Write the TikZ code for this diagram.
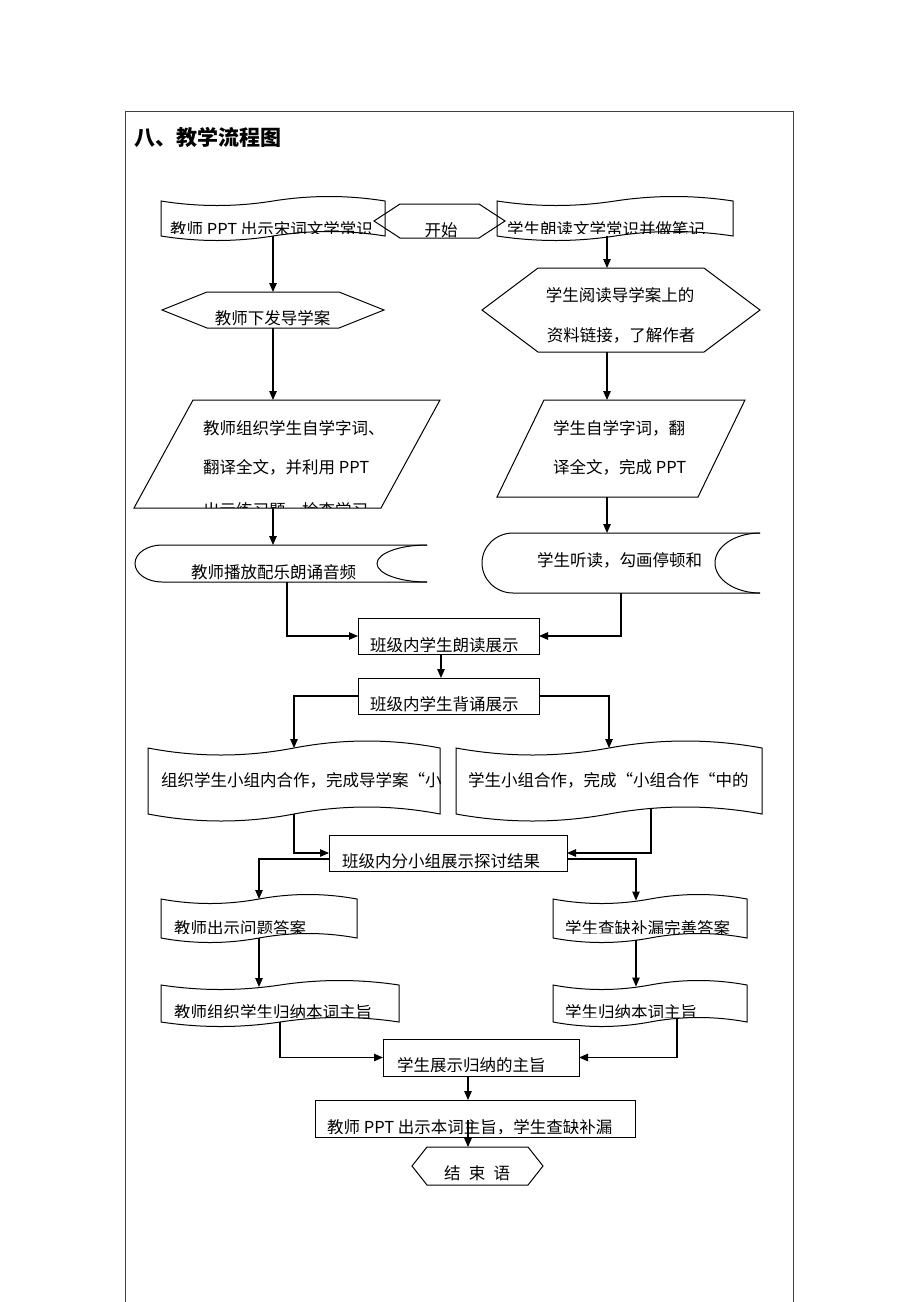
\documentclass[tikz,border=0pt]{standalone}
\usepackage{fontspec}
\setmainfont{Noto Sans CJK SC}
\usetikzlibrary{arrows.meta,calc}
\tikzset{
  ln/.style={line width=1pt, line join=miter},
  arr/.style={line width=1.1pt, -{Triangle[length=9pt,width=7.5pt]}},
  shp/.style={draw=none, inner sep=0pt, outer sep=0pt},
  boxn/.style={draw, line width=0.9pt, inner sep=0pt, outer sep=0pt},
  txt/.style={inner sep=0pt, font=\fontsize{16.5}{18}\selectfont},
  frame/.style={line width=1pt, draw=black!75}
}
\newcommand\tapeoutline[2]{%
  \draw[ln] let \p1=(#1.north west), \p2=(#1.south east), \n1={\x2-\x1}, \n2={4*#2/3} in
   (\x1,\y1) .. controls ({\x1+\n1/6},{\y1-\n2}) and ({\x1+\n1/3},{\y1-\n2}) .. ({\x1+\n1/2},\y1)
   .. controls ({\x1+2*\n1/3},{\y1+\n2}) and ({\x1+5*\n1/6},{\y1+\n2}) .. (\x2,\y1)
   -- (\x2,\y2)
   .. controls ({\x1+5*\n1/6},{\y2+\n2}) and ({\x1+2*\n1/3},{\y2+\n2}) .. ({\x1+\n1/2},\y2)
   .. controls ({\x1+\n1/3},{\y2-\n2}) and ({\x1+\n1/6},{\y2-\n2}) .. (\x1,\y2) -- cycle;}
\newcommand\hexoutline[2]{%
  \draw[ln] (#1.west) -- ([xshift=#2]#1.north west) -- ([xshift=-#2]#1.north east) -- (#1.east)
   -- ([xshift=-#2]#1.south east) -- ([xshift=#2]#1.south west) -- cycle;}
\newcommand\paraoutline[2]{%
  \draw[ln] (#1.south west) -- ([xshift=-#2]#1.south east) -- (#1.north east) -- ([xshift=#2]#1.north west) -- cycle;}
\newcommand\storedoutline[3]{%
  \draw[ln] let \p1=(#1.north west), \p2=(#1.south east), \n1={(\y1-\y2)/2} in
   (\x2,\y1) -- ({\x1+#2},\y1) arc[start angle=90,end angle=270,x radius=#2,y radius=\n1] -- (\x2,\y2);
  \draw[ln] let \p1=(#1.north west), \p2=(#1.south east), \n1={(\y1-\y2)/2} in
   (\x2,\y1) arc[start angle=90,end angle=270,x radius=#3,y radius=\n1];}
\newcommand\cliptxt[7]{%
  \begin{scope}\clip (#4,0) rectangle (#5,#6);
  \node[txt,anchor=west] (#1) at (#2,#3) {#7};\end{scope}}
\begin{document}
\begin{tikzpicture}[x=1pt,y=-1pt]
\useasboundingbox (0,0) rectangle (920,1302);
% page frame
\draw[frame] (125,1302) -- (125,111) -- (793,111) -- (793,1302);
\node[inner sep=0pt,anchor=west,font=\fontsize{21}{24}\selectfont\bfseries] (title) at (134,137.5) {八、教学流程图};

% ---- shapes ----
\node[shp,minimum width=224pt,minimum height=35pt] (T1) at (273,218.5) {};
\node[shp,minimum width=236pt,minimum height=35pt] (T2) at (615,218.5) {};
\node[shp,minimum width=131pt,minimum height=34pt] (H1) at (439.5,221) {};
\node[shp,minimum width=222pt,minimum height=36pt] (HL) at (273,310) {};
\node[shp,minimum width=278pt,minimum height=84pt] (HR) at (621,310) {};
\node[shp,minimum width=306pt,minimum height=108pt] (P1) at (287,454) {};
\node[shp,minimum width=248pt,minimum height=97pt] (P2) at (621,448.5) {};
\node[shp,minimum width=292pt,minimum height=37pt] (S1) at (281,563.5) {};
\node[shp,minimum width=278pt,minimum height=60pt] (S2) at (621,563) {};
\node[boxn,minimum width=181pt,minimum height=36pt] (B1) at (448.5,636) {};
\node[boxn,minimum width=181pt,minimum height=36pt] (B2) at (448.5,696) {};
\node[shp,minimum width=292pt,minimum height=66pt] (D1) at (294,781) {};
\node[shp,minimum width=306pt,minimum height=66pt] (D2) at (609,781) {};
\node[boxn,minimum width=238pt,minimum height=36pt] (B3) at (448,853) {};
\node[shp,minimum width=196pt,minimum height=39pt] (D3) at (259,918.5) {};
\node[shp,minimum width=194pt,minimum height=39pt] (D4) at (650,918.5) {};
\node[shp,minimum width=238pt,minimum height=37pt] (D5) at (280,1003.5) {};
\node[shp,minimum width=194pt,minimum height=37pt] (D6) at (650,1003.5) {};
\node[boxn,minimum width=196pt,minimum height=37pt] (B4) at (481,1057.5) {};
\node[boxn,minimum width=320pt,minimum height=37pt] (B5) at (475,1118.5) {};
\node[shp,minimum width=131pt,minimum height=38pt] (H2) at (477.5,1166) {};

\tapeoutline{T1}{4.5pt}
\tapeoutline{T2}{4.5pt}
\hexoutline{H1}{26pt}
\hexoutline{HL}{45pt}
\hexoutline{HR}{56pt}
\paraoutline{P1}{59pt}
\paraoutline{P2}{47pt}
\storedoutline{S1}{27pt}{50pt}
\storedoutline{S2}{31pt}{45pt}
\tapeoutline{D1}{7pt}
\tapeoutline{D2}{7pt}
\tapeoutline{D3}{4.5pt}
\tapeoutline{D4}{4.5pt}
\tapeoutline{D5}{4.5pt}
\tapeoutline{D6}{4.5pt}
\hexoutline{H2}{15pt}

% ---- texts ----
\cliptxt{tT1}{170}{229}{161}{384}{233}{教师 PPT 出示宋词文学常识}
\cliptxt{tT2}{507}{229}{497}{732}{233}{学生朗读文学常识并做笔记}
\node[txt] (tH1) at (441,230) {开始};
\node[txt] (tHL) at (272.5,318) {教师下发导学案};
\node[txt] (tHR1) at (620,295) {学生阅读导学案上的};
\node[txt] (tHR2) at (621,335) {资料链接，了解作者};
\node[txt,anchor=west] (tP11) at (203,428) {教师组织学生自学字词、};
\node[txt,anchor=west] (tP12) at (203,467) {翻译全文，并利用 PPT};
\cliptxt{tP13}{203}{510}{150}{430}{507}{出示练习题，检查学习}
\node[txt,anchor=west] (tP21) at (553,428) {学生自学字词，翻};
\node[txt,anchor=west] (tP22) at (553,467) {译全文，完成 PPT};
\node[txt,anchor=west] (tS1) at (191,572) {教师播放配乐朗诵音频};
\node[txt,anchor=west] (tS2) at (537,560) {学生听读，勾画停顿和};
\cliptxt{tB1}{370}{645}{359}{538}{651}{班级内学生朗读展示}
\cliptxt{tB2}{370}{704}{359}{538}{711}{班级内学生背诵展示}
\node[txt,anchor=west] (tD1) at (161,780) {组织学生小组内合作，完成导学案“小};
\node[txt,anchor=west] (tD2) at (468,780) {学生小组合作，完成“小组合作“中的};
\cliptxt{tB3}{342}{861}{330}{566}{868}{班级内分小组展示探讨结果}
\cliptxt{tD3}{174}{928}{162}{356}{933}{教师出示问题答案}
\cliptxt{tD4}{565}{928}{554}{746}{933}{学生查缺补漏完善答案}
\cliptxt{tD5}{174}{1012}{162}{398}{1017}{教师组织学生归纳本词主旨}
\cliptxt{tD6}{565}{1012}{554}{746}{1017}{学生归纳本词主旨}
\cliptxt{tB4}{397}{1065}{384}{578}{1071}{学生展示归纳的主旨}
\cliptxt{tB5}{327}{1127}{316}{634}{1133}{教师 PPT 出示本词主旨，学生查缺补漏}
\node[txt] (tH2) at (477,1173) {结\hspace{0.5em}束\hspace{0.5em}语};

% ---- connectors ----
\draw[arr] (T1.south) -- (HL.north);
\draw[arr] ([xshift=-8pt]T2.south) -- ([xshift=-14pt]HR.north);
\draw[arr] (HL.south) -- ([xshift=-14pt]P1.north);
\draw[arr] ([xshift=-14pt]HR.south) -- ([xshift=-14pt]P2.north);
\draw[arr] ([xshift=-14pt]P1.south) -- ([xshift=-8pt]S1.north);
\draw[arr] ([xshift=-14pt]P2.south) -- ([xshift=-14pt]S2.north);
\draw[arr] ([xshift=6pt]S1.south) |- (B1.west);
\draw[arr] (S2.south) |- (B1.east);
\draw[arr] ([xshift=-7.5pt]B1.south) -- ([xshift=-7.5pt]B2.north);
\draw[arr] (B2.west) -| (D1.north);
\draw[arr] (B2.east) -| (D2.north);
\draw[arr] (D1.south) |- (B3.west);
\draw[arr] ([xshift=42pt,yshift=5pt]D2.south) |- (B3.east);
\draw[arr] ([yshift=-6pt]B3.west) -| (D3.north);
\draw[arr] ([yshift=-6pt]B3.east) -| ([xshift=-14pt,yshift=-1.5pt]D4.north);
\draw[arr] (D3.south) -- ([xshift=-21pt,yshift=-2pt]D5.north);
\draw[arr] ([xshift=-14pt,yshift=-1.5pt]D4.south) -- ([xshift=-14pt,yshift=-1.5pt]D6.north);
\draw[arr] (D5.south) |- (B4.west);
\draw[arr] ([xshift=27pt,yshift=3pt]D6.south) |- (B4.east);
\draw[arr] ([xshift=-13pt]B4.south) -- ([xshift=-7pt]B5.north);
\draw[arr] ([xshift=-7pt,yshift=17pt]B5.south) -- ([xshift=-9.5pt]H2.north);
\end{tikzpicture}
\end{document}
